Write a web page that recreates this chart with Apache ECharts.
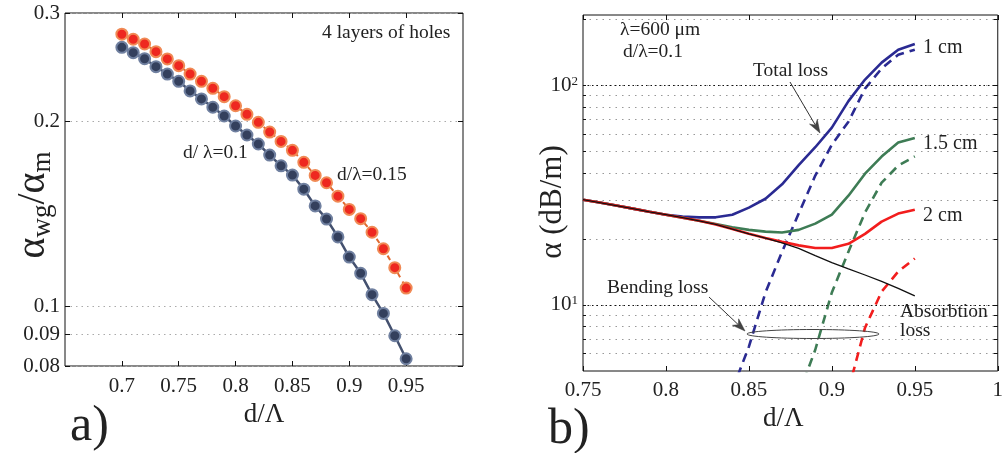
<!DOCTYPE html>
<html><head><meta charset="utf-8">
<script src="https://cdn.jsdelivr.net/npm/echarts@6/dist/echarts.min.js"></script>
<style>html,body{margin:0;padding:0;background:#fff}#c{width:1006px;height:453px}</style>
</head><body><div id="c"></div>
<script>
// ---------- panel a) data ----------
const ratioX = [0.70,0.71,0.72,0.73,0.74,0.75,0.76,0.77,0.78,0.79,0.80,0.81,0.82,0.83,0.84,0.85,0.86,0.87,0.88,0.89,0.90,0.91,0.92,0.93,0.94,0.95];
const ratio01 = [0.2638,0.2586,0.2528,0.2454,0.2387,0.2323,0.2241,0.2175,0.2108,0.2040,0.1965,0.1900,0.1837,0.1762,0.1693,0.1635,0.1551,0.1457,0.1387,0.1297,0.1203,0.1132,0.1045,0.0974,0.0896,0.0822];
const ratio015 = [0.2771,0.2719,0.2671,0.2596,0.2526,0.2463,0.2387,0.2323,0.2263,0.2193,0.2120,0.2053,0.1992,0.1921,0.1855,0.1794,0.1715,0.1633,0.1589,0.1511,0.1438,0.1389,0.1320,0.1241,0.1156,0.1071];
const leftXTicks = [0.7,0.75,0.8,0.85,0.9,0.95];
const leftYTicks = [0.08,0.09,0.1,0.2,0.3];

// ---------- panel b) data ----------
const lossX = [0.75,0.76,0.77,0.78,0.79,0.80,0.81,0.82,0.83,0.84,0.85,0.86,0.87,0.88,0.89,0.90,0.91,0.92,0.93,0.94,0.95];
const absorption = [30.2,29.3,28.4,27.5,26.6,25.8,25.0,24.2,23.3,22.2,21.1,20.2,19.2,18.1,16.8,15.6,14.6,13.7,12.8,11.9,11.0];
const total1 = [30.2,29.3,28.4,27.5,26.6,25.8,25.3,25.1,25.1,25.8,27.8,30.5,35.5,43.4,52.4,64.4,85.0,106.6,127.4,145.9,155.0];
const total15 = [30.2,29.3,28.4,27.5,26.6,25.8,25.0,24.2,23.4,22.6,22.0,21.6,21.4,22.0,23.5,25.8,31.5,39.7,47.5,55.0,57.8];
const total2 = [30.2,29.3,28.4,27.5,26.6,25.8,25.0,24.2,23.3,22.2,21.1,20.2,19.4,18.7,18.2,18.2,19.0,21.1,24.0,26.1,27.2];
const bend1 = [null,null,null,null,null,null,null,null,null,4.1,6.46,11.4,17.5,26.1,38.9,53.8,68.5,97.0,119.7,138.4,145.9];
const bend15 = [null,null,null,null,null,null,null,null,null,null,null,null,null,3.9,6.25,11.4,17.5,26.4,36.1,43.2,47.6];
const bend2 = [null,null,null,null,null,null,null,null,null,null,null,null,null,null,null,null,4.1,7.88,11.5,14.2,16.3];
const rightXTicks = [0.75,0.8,0.85,0.9,0.95,1];
const rightYMinor = [6,7,8,9,10,20,30,40,50,60,70,80,90,100,200];
const rightYMajor = [10,100];

const serif = "'Liberation Serif','DejaVu Serif',serif";
const txt = '#222';
const pairs = (xs, ys) => xs.map((x, i) => [x, ys[i]]);
const fmtNum = v => String(+(+v).toFixed(2));

const chart = echarts.init(document.getElementById('c'), null, {renderer: 'canvas'});

const tickStyle = {show: true, inside: true, length: 5, lineStyle: {color: '#111', width: 1}};
const LBL = 21;

const option = {
  animation: false,
  backgroundColor: '#fff',
  grid: [
    {left: 65, top: 13, width: 398, height: 353, show: true, borderColor: '#111', borderWidth: 1, backgroundColor: 'transparent'},
    {left: 583, top: 15, width: 419, height: 356, show: true, borderColor: '#111', borderWidth: 1, backgroundColor: 'transparent'}
  ],
  xAxis: [
    {gridIndex: 0, type: 'value', position: 'bottom', min: 0.65, max: 1.0, interval: 0.05,
     axisLine: {show: false}, splitLine: {show: false},
     axisTick: Object.assign({}, tickStyle, {customValues: leftXTicks}),
     axisLabel: {customValues: leftXTicks, formatter: fmtNum, fontFamily: serif, fontSize: LBL, color: txt, margin: 10},
     name: 'd/Λ', nameLocation: 'middle', nameGap: 31,
     nameTextStyle: {fontFamily: serif, fontSize: 27, color: txt, verticalAlign: 'top'}},
    {gridIndex: 0, type: 'value', position: 'top', min: 0.65, max: 1.0, interval: 0.05,
     axisLine: {show: false}, splitLine: {show: false}, axisLabel: {show: false},
     axisTick: Object.assign({}, tickStyle, {customValues: leftXTicks})},
    {gridIndex: 1, type: 'value', position: 'bottom', min: 0.75, max: 1.0, interval: 0.05,
     axisLine: {show: false}, splitLine: {show: false},
     axisTick: Object.assign({}, tickStyle, {customValues: rightXTicks}),
     axisLabel: {customValues: rightXTicks, formatter: fmtNum, fontFamily: serif, fontSize: LBL, color: txt, margin: 9},
     name: 'd/Λ', nameLocation: 'middle', nameGap: 32,
     nameTextStyle: {fontFamily: serif, fontSize: 27, color: txt, verticalAlign: 'top', padding: [0, 14, 0, 0]}},
    {gridIndex: 1, type: 'value', position: 'top', min: 0.75, max: 1.0, interval: 0.05,
     axisLine: {show: false}, splitLine: {show: false}, axisLabel: {show: false},
     axisTick: Object.assign({}, tickStyle, {customValues: rightXTicks})}
  ],
  yAxis: [
    {gridIndex: 0, type: 'log', logBase: 10, position: 'left', min: 0.08, max: 0.3,
     axisLine: {show: false},
     axisTick: Object.assign({}, tickStyle, {customValues: leftYTicks}),
     axisLabel: {customValues: leftYTicks, formatter: fmtNum, fontFamily: serif, fontSize: LBL, color: txt, margin: 5},
     splitLine: {show: true, lineStyle: {color: '#aaa', type: [1.5, 4], width: 1}}},
    {gridIndex: 0, type: 'log', logBase: 10, position: 'right', min: 0.08, max: 0.3,
     axisLine: {show: false}, axisLabel: {show: false}, splitLine: {show: false},
     axisTick: Object.assign({}, tickStyle, {customValues: leftYTicks})},
    {gridIndex: 1, type: 'log', logBase: 10, position: 'left', min: 5, max: 210,
     axisLine: {show: false},
     axisTick: Object.assign({}, tickStyle, {length: 3, customValues: rightYMinor}),
     axisLabel: {customValues: rightYMajor, margin: 5,
       formatter: v => '{b|10}{s|' + Math.round(Math.log10(v)) + '}',
       rich: {b: {fontFamily: serif, fontSize: LBL, color: txt},
              s: {fontFamily: serif, fontSize: 13, color: txt, verticalAlign: 'top'}}},
     splitLine: {show: true, lineStyle: {color: '#999', type: [1.5, 5], width: 1}}},
    {gridIndex: 1, type: 'log', logBase: 10, position: 'right', min: 5, max: 210,
     axisLine: {show: false}, axisLabel: {show: false},
     axisTick: Object.assign({}, tickStyle, {length: 4, customValues: rightYMinor}),
     splitLine: {show: false}}
  ],
  series: [
    {type: 'line', xAxisIndex: 0, yAxisIndex: 0, data: pairs(ratioX, ratio01),
     symbol: 'circle', symbolSize: 11, z: 3,
     lineStyle: {color: '#44516f', width: 2.5},
     itemStyle: {color: '#34405d', borderColor: '#7080a0', borderWidth: 2}},
    {type: 'line', xAxisIndex: 0, yAxisIndex: 0, data: pairs(ratioX, ratio015),
     symbol: 'circle', symbolSize: 11, z: 4,
     lineStyle: {color: '#e06a30', width: 2, type: [5, 5]},
     itemStyle: {color: '#ee2820', borderColor: '#f08a55', borderWidth: 2}},
    // panel b: major grid lines (10^1, 10^2) drawn darker via markLine
    {type: 'line', xAxisIndex: 2, yAxisIndex: 2, data: [], silent: true,
     markLine: {silent: true, symbol: 'none', label: {show: false},
       lineStyle: {color: '#111', type: [1.5, 3], width: 1},
       data: rightYMajor.map(v => ({yAxis: v}))}},
    {type: 'line', xAxisIndex: 2, yAxisIndex: 2, data: pairs(lossX, bend1), symbol: 'none', z: 3,
     lineStyle: {color: '#2a2a92', width: 2.6, type: [9, 6]}},
    {type: 'line', xAxisIndex: 2, yAxisIndex: 2, data: pairs(lossX, bend15), symbol: 'none', z: 3,
     lineStyle: {color: '#3e7c55', width: 2.6, type: [9, 6]}},
    {type: 'line', xAxisIndex: 2, yAxisIndex: 2, data: pairs(lossX, bend2), symbol: 'none', z: 3,
     lineStyle: {color: '#f21d1d', width: 2.6, type: [9, 6]}},
    {type: 'line', xAxisIndex: 2, yAxisIndex: 2, data: pairs(lossX, total1), symbol: 'none', z: 4,
     lineStyle: {color: '#2a2a92', width: 2.6}},
    {type: 'line', xAxisIndex: 2, yAxisIndex: 2, data: pairs(lossX, total15), symbol: 'none', z: 4,
     lineStyle: {color: '#3e7c55', width: 2.6}},
    {type: 'line', xAxisIndex: 2, yAxisIndex: 2, data: pairs(lossX, total2), symbol: 'none', z: 5,
     lineStyle: {color: '#f21d1d', width: 2.6}},
    {type: 'line', xAxisIndex: 2, yAxisIndex: 2, data: pairs(lossX, absorption), symbol: 'none', z: 6,
     lineStyle: {color: '#111', width: 1.3}}
  ]
};
chart.setOption(option);

// ---------- annotations ----------
function label(text, x, y, size, extra) {
  return Object.assign({type: 'text', x: x, y: y, z: 100,
    style: {text: text, fontFamily: serif, fontSize: size || 19.5, fill: txt, align: 'left', verticalAlign: 'middle'}}, extra || {});
}
function arrow(x1, y1, x2, y2) {
  const a = Math.atan2(y2 - y1, x2 - x1), L = 13, W = 4.5;
  const bx = x2 - L * Math.cos(a), by = y2 - L * Math.sin(a);
  const nx = -Math.sin(a), ny = Math.cos(a);
  const mx = x2 - 0.7 * L * Math.cos(a), my = y2 - 0.7 * L * Math.sin(a);
  return [
    {type: 'line', z: 100, shape: {x1: x1, y1: y1, x2: mx, y2: my}, style: {stroke: '#333', lineWidth: 1}},
    {type: 'polygon', z: 100, shape: {points: [[x2, y2], [bx + nx * W, by + ny * W], [mx, my], [bx - nx * W, by - ny * W]]},
     style: {fill: '#444', stroke: '#333', lineWidth: 0.5}}
  ];
}
const yNameA = {type: 'text', x: 33, y: 205, rotation: Math.PI / 2, z: 100,
  style: {text: '{a|α}{s|wg}{a|/α}{s|m}', align: 'center', verticalAlign: 'middle',
    rich: {a: {fontFamily: serif, fontSize: 40, fill: txt, lineHeight: 46, verticalAlign: 'middle'},
           s: {fontFamily: serif, fontSize: 27, fill: txt, verticalAlign: 'bottom'}}}};
const yNameB = {type: 'text', x: 553, y: 202, rotation: Math.PI / 2, z: 100,
  style: {text: 'α (dB/m)', fontFamily: serif, fontSize: 31, fill: txt, align: 'center', verticalAlign: 'middle'}};

const graphics = [
  label('4 layers of holes', 322, 33),
  label('d/ λ=0.1', 183, 153),
  label('d/λ=0.15', 337, 175),
  label('a)', 70, 427, 50),
  label('b)', 548, 430, 50),
  yNameA, yNameB,
  label('λ=600 μm', 620, 30),
  label('d/λ=0.1', 623, 52),
  label('Total loss', 753, 71),
  label('1 cm', 923, 48, 20),
  label('1.5 cm', 923, 144, 20),
  label('2 cm', 923, 216, 20),
  label('Bending loss', 607, 288),
  label('Absorbtion', 900, 312),
  label('loss', 900, 331),
  {type: 'ellipse', z: 100, shape: {cx: 813, cy: 334, rx: 66, ry: 4.5}, style: {fill: 'none', stroke: '#444', lineWidth: 1}}
].concat(arrow(790, 82, 820, 133), arrow(709, 297, 745, 331));

chart.setOption({graphic: graphics});
</script>
</body></html>
